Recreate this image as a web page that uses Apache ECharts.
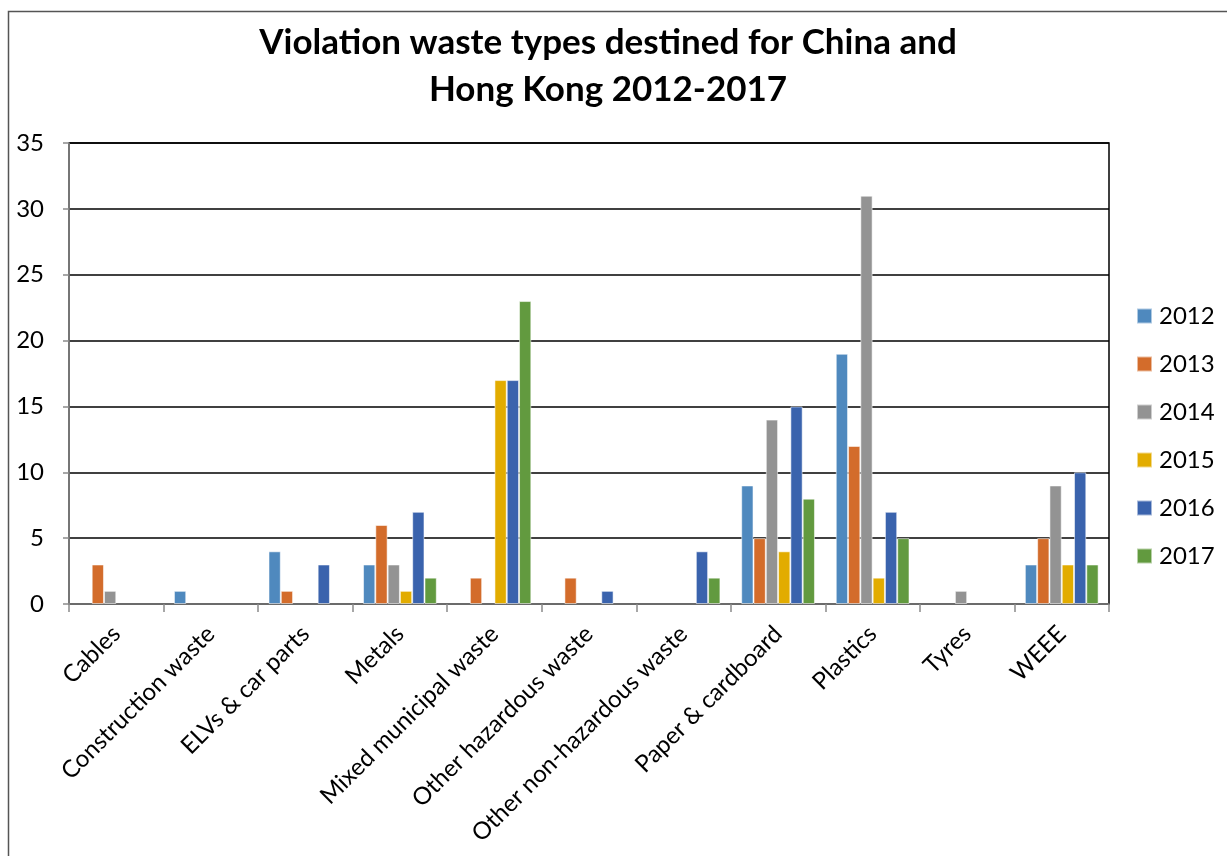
<!DOCTYPE html>
<html>
<head>
<meta charset="utf-8">
<script src="https://cdn.jsdelivr.net/npm/echarts@6/dist/echarts.min.js"></script>
<style>
  html, body { margin: 0; padding: 0; background: #fff; }
  #chart { width: 1227px; height: 856px; }
</style>
</head>
<body>
<div id="chart"></div>
<script>
// Waste categories on the x axis
const categories = [
  'Cables', 'Construction waste', 'ELVs & car parts', 'Metals',
  'Mixed municipal waste', 'Other hazardous waste', 'Other non-hazardous waste',
  'Paper & cardboard', 'Plastics', 'Tyres', 'WEEE'
];

// Number of violations per year (null = no case recorded)
const y2012 = [null, 1, 4, 3, null, null, null, 9, 19, null, 3];
const y2013 = [3, null, 1, 6, 2, 2, null, 5, 12, null, 5];
const y2014 = [1, null, null, 3, null, null, null, 14, 31, 1, 9];
const y2015 = [null, null, null, 1, 17, null, null, 4, 2, null, 3];
const y2016 = [null, null, 3, 7, 17, 1, 4, 15, 7, null, 10];
const y2017 = [null, null, null, 2, 23, null, 2, 8, 5, null, 3];

const years = ['2012', '2013', '2014', '2015', '2016', '2017'];
const yearValues = [y2012, y2013, y2014, y2015, y2016, y2017];
const yearColors = ['#4F89BE', '#D36C2B', '#939393', '#E2AC00', '#3A63AD', '#629A3F'];

const FONT = 'Lato, "Open Sans", sans-serif';

const chart = echarts.init(document.getElementById('chart'), null, { renderer: 'canvas' });

const series = years.map((name, i) => ({
  name: name,
  type: 'bar',
  data: yearValues[i],
  barGap: '0%',
  barCategoryGap: '22%',
  itemStyle: {
    color: yearColors[i],
    borderColor: 'rgba(255,255,255,0.55)',
    borderWidth: 1
  }
}));

chart.setOption({
  animation: false,
  backgroundColor: '#fff',
  title: {
    text: 'Violation waste types destined for China and\nHong Kong 2012-2017',
    left: 603,
    textAlign: 'center',
    top: 14,
    textStyle: {
      fontFamily: FONT,
      fontWeight: 'bold',
      fontSize: 35,
      lineHeight: 47,
      color: '#000'
    }
  },
  legend: {
    orient: 'vertical',
    left: 1131,
    top: 299,
    itemWidth: 15,
    itemHeight: 15,
    itemGap: 24,
    icon: 'rect',
    textStyle: { fontFamily: FONT, fontSize: 24, lineHeight: 24, color: '#000', padding: [0, 0, 0, 2] },
    data: years
  },
  grid: {
    left: 69,
    right: 118,
    top: 143,
    bottom: 252,
    show: true,
    borderColor: '#000',
    borderWidth: 1.5,
    containLabel: false
  },
  xAxis: {
    type: 'category',
    data: categories,
    axisLine: { show: true, lineStyle: { color: '#8a8a8a', width: 1.5 } },
    axisTick: { show: true, length: 8, alignWithLabel: false, lineStyle: { color: '#8a8a8a', width: 1.5 } },
    axisLabel: {
      interval: 0,
      rotate: 45,
      margin: 26,
      fontFamily: FONT,
      fontSize: 24,
      color: '#000'
    }
  },
  yAxis: {
    type: 'value',
    min: 0,
    max: 35,
    interval: 5,
    axisLine: { show: true, lineStyle: { color: '#8a8a8a', width: 1.5 } },
    axisTick: { show: true, length: 6, lineStyle: { color: '#8a8a8a', width: 1.5 } },
    axisLabel: {
      margin: 25,
      fontFamily: FONT,
      fontSize: 24,
      color: '#000'
    },
    splitLine: { show: true, lineStyle: { color: '#000', width: 1.5 } }
  },
  graphic: [{
    type: 'rect',
    shape: { x: 8.5, y: 11.5, width: 1400, height: 1000 },
    style: { fill: null, stroke: '#555', lineWidth: 1.5 },
    silent: true
  }],
  series: series
});
</script>
</body>
</html>
